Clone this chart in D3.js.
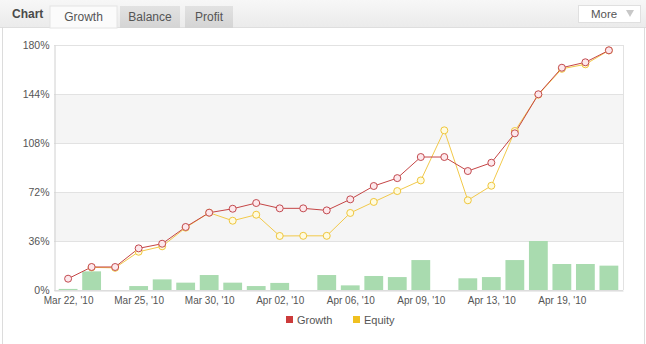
<!DOCTYPE html>
<html>
<head>
<meta charset="utf-8">
<script src="https://d3js.org/d3.v7.min.js"></script>
<style>
  body { margin: 0; background: #fff; }
  text { font-family: "Liberation Sans", Arial, sans-serif; }
</style>
</head>
<body>
<script>
    // data
    var dates = ["Mar 22, '10", "Mar 23, '10", "Mar 24, '10", "Mar 25, '10", "Mar 26, '10", "Mar 29, '10",
                 "Mar 30, '10", "Mar 31, '10", "Apr 01, '10", "Apr 02, '10", "Apr 04, '10", "Apr 05, '10",
                 "Apr 06, '10", "Apr 07, '10", "Apr 08, '10", "Apr 09, '10", "Apr 11, '10", "Apr 12, '10",
                 "Apr 13, '10", "Apr 14, '10", "Apr 15, '10", "Apr 19, '10", "Apr 20, '10", "Apr 21, '10"];
    var growth = [8.3, 16.9, 16.9, 30.6, 34, 46.3, 56.8, 59.7, 63.9, 60, 60, 58.5,
                  66.6, 76.4, 82.2, 97.7, 97.7, 87.4, 93.5, 115.1, 143.8, 163.3, 167.3, 176.1];
    var equity = [null, 16.6, 16.3, 28.1, 32.1, 45.8, 56.8, 50.9, 55.3, 39.7, 39.8, 39.8,
                  56.6, 64.7, 72.7, 80.5, 117.3, 65.9, 76.6, 116.8, 143.5, 162.5, 165.8, 176];
    var bars = [0.8, 13.7, 0, 2.9, 7.8, 5.4, 11, 5.4, 2.9, 5.2, 0, 11,
                3.4, 10.3, 9.5, 22, 0, 8.6, 9.5, 22, 36, 19.1, 19.1, 17.9];
    var yTicks = [0, 36, 72, 108, 144, 180];
    var tabs = ["Growth", "Balance", "Profit"];
    var legendItems = [{ name: "Growth", color: "#cc3b3b" }, { name: "Equity", color: "#f0c020" }];

    var W = 646, H = 344;
    var svg = d3.select("body").append("svg").attr("width", W).attr("height", H);

    // ---- frame + header
    var defs = svg.append("defs");
    var hg = defs.append("linearGradient").attr("id", "hdr").attr("x1", 0).attr("y1", 0).attr("x2", 0).attr("y2", 1);
    hg.append("stop").attr("offset", 0).attr("stop-color", "#f7f7f7");
    hg.append("stop").attr("offset", 1).attr("stop-color", "#ebebeb");
    var tg = defs.append("linearGradient").attr("id", "tabOff").attr("x1", 0).attr("y1", 0).attr("x2", 0).attr("y2", 1);
    tg.append("stop").attr("offset", 0).attr("stop-color", "#e2e2e2");
    tg.append("stop").attr("offset", 1).attr("stop-color", "#d4d4d4");

    svg.append("rect").attr("x", 0).attr("y", 0).attr("width", W).attr("height", 27).attr("fill", "url(#hdr)");
    svg.append("line").attr("x1", 0).attr("x2", W).attr("y1", 27.5).attr("y2", 27.5).attr("stroke", "#dedede");
    svg.append("line").attr("x1", 2.5).attr("x2", 2.5).attr("y1", 27).attr("y2", H).attr("stroke", "#dcdcdc");
    svg.append("line").attr("x1", 644.5).attr("x2", 644.5).attr("y1", 27).attr("y2", H).attr("stroke", "#dcdcdc");

    svg.append("text").attr("x", 12).attr("y", 18).attr("font-size", 12).attr("font-weight", "bold")
        .attr("fill", "#4a4a4a").text("Chart");

    var tabX = [50, 120, 185], tabW = [67, 60, 48];
    var tab = svg.selectAll("g.tab").data(tabs).enter().append("g").attr("class", "tab");
    tab.append("rect")
        .attr("x", function (d, i) { return tabX[i]; })
        .attr("y", 6).attr("width", function (d, i) { return tabW[i]; }).attr("height", 22)
        .attr("fill", function (d, i) { return i == 0 ? "#fbfbfb" : "url(#tabOff)"; })
        .attr("stroke", function (d, i) { return i == 0 ? "#e4e4e4" : "none"; });
    tab.append("text")
        .attr("x", function (d, i) { return tabX[i] + tabW[i] / 2; })
        .attr("y", 21).attr("text-anchor", "middle").attr("font-size", 12).attr("fill", "#555")
        .text(function (d) { return d; });

    svg.append("rect").attr("x", 578.5).attr("y", 5.5).attr("width", 62).attr("height", 17)
        .attr("fill", "#fff").attr("stroke", "#e0e0e0");
    svg.append("text").attr("x", 591).attr("y", 18).attr("font-size", 11.5).attr("fill", "#555").text("More");
    svg.append("path").attr("d", "M626,10 L634,10 L630,17 Z").attr("fill", "#c8c8c8");

    // ---- plot
    var plotLeft = 54, plotRight = 623, plotTop = 45, plotBottom = 290;

    var x = d3.scalePoint().domain(dates).range([plotLeft, plotRight]).padding(0.6);
    var y = d3.scaleLinear().domain([0, 180]).range([plotBottom, plotTop]);
    var step = x.step(), barW = step * 0.8;

    // alternate bands
    svg.selectAll("rect.band").data([[36, 72], [108, 144]]).enter().append("rect")
        .attr("class", "band")
        .attr("x", plotLeft).attr("width", plotRight - plotLeft)
        .attr("y", function (d) { return y(d[1]); })
        .attr("height", function (d) { return y(d[0]) - y(d[1]); })
        .attr("fill", "#f5f5f5");

    svg.selectAll("line.grid").data(yTicks).enter().append("line")
        .attr("class", "grid")
        .attr("x1", plotLeft).attr("x2", plotRight)
        .attr("y1", function (d) { return Math.round(y(d)) + 0.5; })
        .attr("y2", function (d) { return Math.round(y(d)) + 0.5; })
        .attr("stroke", "#e2e2e2");
    svg.append("line").attr("x1", plotRight + 0.5).attr("x2", plotRight + 0.5).attr("y1", plotTop).attr("y2", plotBottom)
        .attr("stroke", "#e2e2e2");

    // y axis
    var yAxis = svg.append("g").attr("transform", "translate(" + (plotLeft + 0.5) + ",0)")
        .call(d3.axisLeft(y).tickValues(yTicks).tickSize(0).tickPadding(5).tickFormat(function (d) { return d + "%"; }));
    yAxis.select(".domain").attr("stroke", "#d0d0d0");
    yAxis.selectAll("text").attr("font-size", 10.5).attr("fill", "#555").attr("font-family", "Liberation Sans, Arial, sans-serif");

    // bars
    svg.selectAll("rect.bar").data(bars).enter().append("rect")
        .attr("class", "bar")
        .attr("x", function (d, i) { return x(dates[i]) - barW / 2; })
        .attr("width", barW)
        .attr("y", function (d) { return y(d); })
        .attr("height", function (d) { return plotBottom - y(d); })
        .attr("fill", "#a9dbaf");

    // x axis
    var xAxis = svg.append("g").attr("transform", "translate(0," + (plotBottom + 0.5) + ")")
        .call(d3.axisBottom(x).tickSize(0).tickPadding(6)
            .tickValues(dates.filter(function (d, i) { return i % 3 == 0; })));
    xAxis.select(".domain").attr("stroke", "#d8d8d8");
    xAxis.selectAll("text").attr("font-size", 10).attr("fill", "#555").attr("font-family", "Liberation Sans, Arial, sans-serif");

    // lines
    var line = d3.line()
        .defined(function (d) { return d != null; })
        .x(function (d, i) { return x(dates[i]); })
        .y(function (d) { return y(d); });

    svg.append("path").datum(equity).attr("fill", "none").attr("stroke", "#f2c94a").attr("stroke-width", 1).attr("d", line);
    svg.append("path").datum(growth).attr("fill", "none").attr("stroke", "#c54545").attr("stroke-width", 1).attr("d", line);

    var eqPts = equity.map(function (v, i) { return { v: v, i: i }; })
        .filter(function (d) { return d.v != null; });
    svg.selectAll("circle.eq").data(eqPts).enter().append("circle").attr("class", "eq")
        .attr("cx", function (d) { return x(dates[d.i]); })
        .attr("cy", function (d) { return y(d.v); })
        .attr("r", 3.5).attr("fill", "#fffbe0").attr("stroke", "#efc63c");

    svg.selectAll("circle.gr").data(growth).enter().append("circle").attr("class", "gr")
        .attr("cx", function (d, i) { return x(dates[i]); })
        .attr("cy", function (d) { return y(d); })
        .attr("r", 3.5).attr("fill", "#fde8ec").attr("stroke", "#c24a4f");

    // legend
    var lx = [286, 353];
    var leg = svg.selectAll("g.legend").data(legendItems).enter().append("g").attr("class", "legend")
        .attr("transform", function (d, i) { return "translate(" + lx[i] + ",316)"; });
    leg.append("rect").attr("width", 7).attr("height", 7).attr("fill", function (d) { return d.color; });
    leg.append("text").attr("x", 11).attr("y", 7.5).attr("font-size", 11).attr("fill", "#555")
        .text(function (d) { return d.name; });
</script>
</body>
</html>
